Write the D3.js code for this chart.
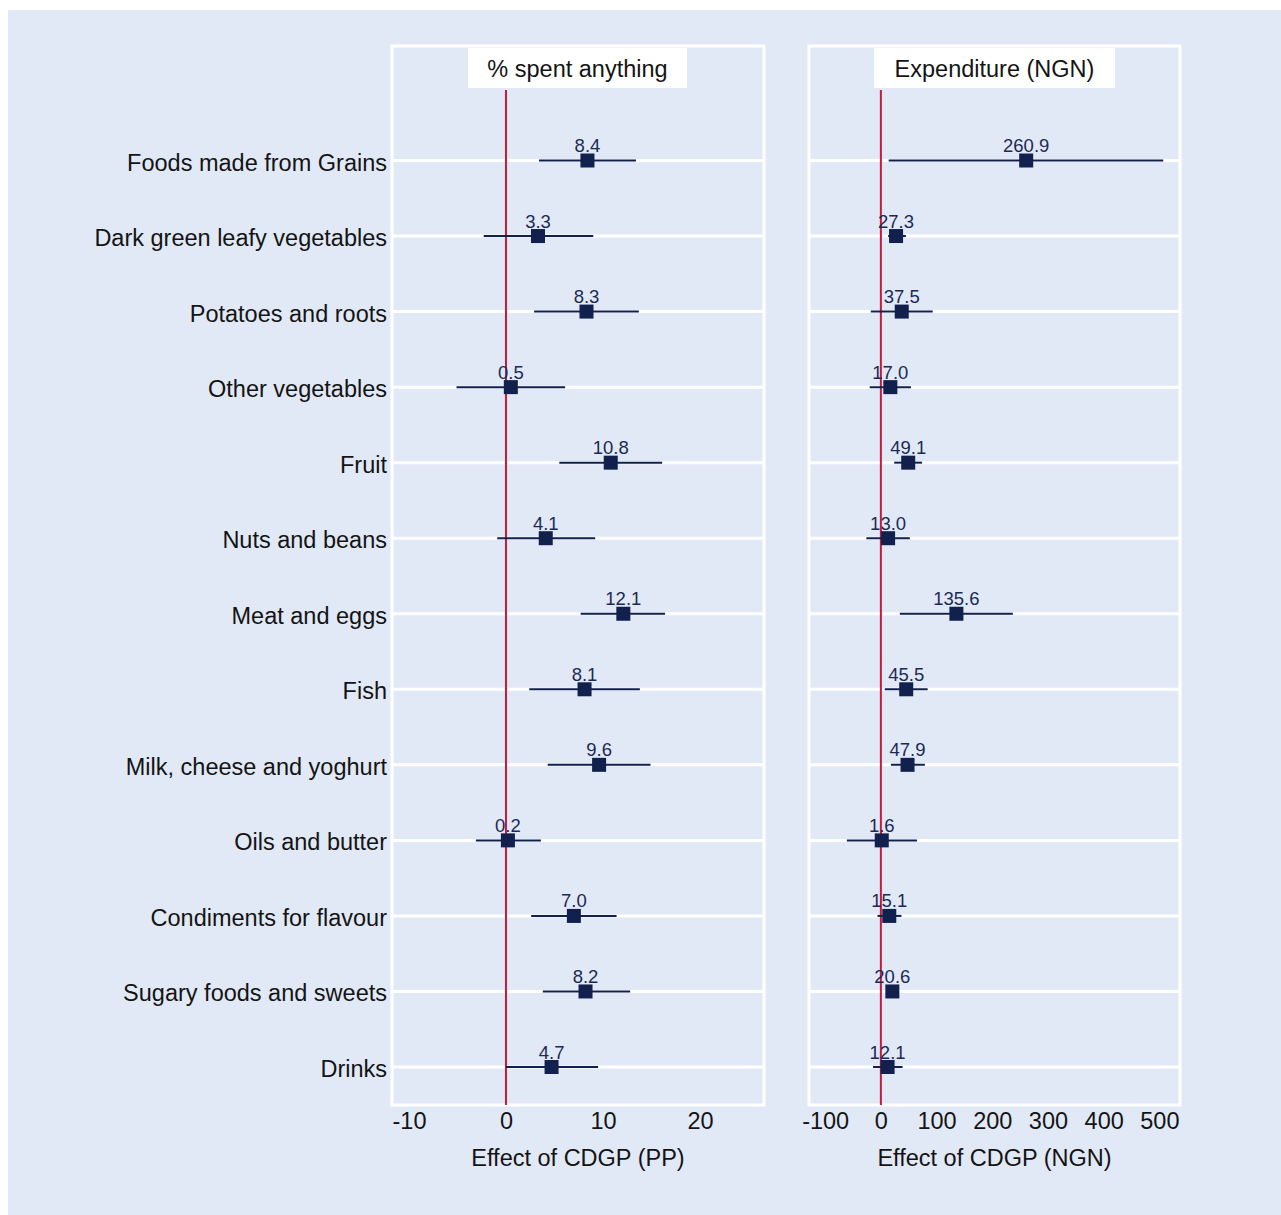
<!DOCTYPE html>
<html>
<head>
<meta charset="utf-8">
<script src="https://cdn.jsdelivr.net/npm/d3@7"></script>
<style>
  html, body { margin: 0; padding: 0; background: #ffffff; }
  svg { display: block; }
  text { font-family: "Liberation Sans", Arial, Helvetica, sans-serif; }
</style>
</head>
<body>
<svg id="chart" width="1281" height="1215"></svg>
<script>
// ---------- DATA ----------
const categories = [
  "Foods made from Grains",
  "Dark green leafy vegetables",
  "Potatoes and roots",
  "Other vegetables",
  "Fruit",
  "Nuts and beans",
  "Meat and eggs",
  "Fish",
  "Milk, cheese and yoghurt",
  "Oils and butter",
  "Condiments for flavour",
  "Sugary foods and sweets",
  "Drinks"
];

// Panel 1: % spent anything (percentage points)
const ppEstimate = [8.4, 3.3, 8.3, 0.5, 10.8, 4.1, 12.1, 8.1, 9.6, 0.2, 7.0, 8.2, 4.7];
const ppLower    = [3.4, -2.3, 2.9, -5.1, 5.5, -0.9, 7.7, 2.4, 4.3, -3.1, 2.6, 3.8, 0.0];
const ppUpper    = [13.4, 9.0, 13.7, 6.1, 16.1, 9.2, 16.4, 13.8, 14.9, 3.6, 11.4, 12.8, 9.5];

// Panel 2: Expenditure (NGN)
const ngnEstimate = [260.9, 27.3, 37.5, 17.0, 49.1, 13.0, 135.6, 45.5, 47.9, 1.6, 15.1, 20.6, 12.1];
const ngnLower    = [14, 13, -18, -20, 24, -26, 34, 7, 18, -61, -6, 12, -14];
const ngnUpper    = [507, 45, 93, 54, 74, 52, 237, 84, 79, 65, 37, 29, 39];

const ppTicks  = [-10, 0, 10, 20];
const ngnTicks = [-100, 0, 100, 200, 300, 400, 500];

const panelTitles = ["% spent anything", "Expenditure (NGN)"];
const axisTitles  = ["Effect of CDGP (PP)", "Effect of CDGP (NGN)"];

// ---------- STYLE ----------
const BG = "#e2e9f6";
const NAVY = "#11204d";
const RED = "#c8193c";
const FONT = 23.5;

const svg = d3.select("#chart");
svg.append("rect").attr("x", 8).attr("y", 10).attr("width", 1273).attr("height", 1205).attr("fill", BG);

const plotTop = 46, plotBottom = 1105;
const y = d3.scalePoint().domain(categories).range([160.5, 1067]);

const panels = [
  { x0: 392, x1: 764, domain: [-11.75, 26.6], est: ppEstimate, lo: ppLower, hi: ppUpper, ticks: ppTicks,
    title: panelTitles[0], axisTitle: axisTitles[0], box: [468, 687] },
  { x0: 809, x1: 1180, domain: [-129, 537], est: ngnEstimate, lo: ngnLower, hi: ngnUpper, ticks: ngnTicks,
    title: panelTitles[1], axisTitle: axisTitles[1], box: [874, 1115] }
];

// Category labels
svg.append("g").selectAll("text").data(categories).join("text")
  .attr("x", 387).attr("y", d => y(d) + 10)
  .attr("text-anchor", "end")
  .attr("font-size", FONT).attr("fill", "#141414")
  .text(d => d);

panels.forEach(p => {
  const x = d3.scaleLinear().domain(p.domain).range([p.x0, p.x1]);
  const g = svg.append("g");

  // grid lines at each category
  g.selectAll("line.grid").data(categories).join("line")
    .attr("class", "grid")
    .attr("x1", p.x0).attr("x2", p.x1)
    .attr("y1", d => y(d)).attr("y2", d => y(d))
    .attr("stroke", "#ffffff").attr("stroke-width", 3);

  // frame
  g.append("rect")
    .attr("x", p.x0).attr("y", plotTop)
    .attr("width", p.x1 - p.x0).attr("height", plotBottom - plotTop)
    .attr("fill", "none").attr("stroke", "#ffffff").attr("stroke-width", 3);

  // title box
  g.append("rect")
    .attr("x", p.box[0]).attr("y", 48)
    .attr("width", p.box[1] - p.box[0]).attr("height", 40)
    .attr("fill", "#ffffff");
  g.append("text")
    .attr("x", (p.box[0] + p.box[1]) / 2).attr("y", 76.5)
    .attr("text-anchor", "middle").attr("font-size", FONT).attr("fill", "#141414")
    .text(p.title);

  // reference line at zero
  g.append("line")
    .attr("x1", x(0)).attr("x2", x(0))
    .attr("y1", 90).attr("y2", plotBottom)
    .attr("stroke", RED).attr("stroke-width", 2);

  const idx = d3.range(categories.length);

  // CI lines
  g.selectAll("line.ci").data(idx).join("line")
    .attr("class", "ci")
    .attr("x1", i => x(p.lo[i])).attr("x2", i => x(p.hi[i]))
    .attr("y1", i => y(categories[i])).attr("y2", i => y(categories[i]))
    .attr("stroke", NAVY).attr("stroke-width", 2);

  // markers
  const s = 14;
  g.selectAll("rect.pt").data(idx).join("rect")
    .attr("class", "pt")
    .attr("x", i => x(p.est[i]) - s / 2).attr("y", i => y(categories[i]) - s / 2)
    .attr("width", s).attr("height", s)
    .attr("fill", NAVY);

  // value labels
  g.selectAll("text.val").data(idx).join("text")
    .attr("class", "val")
    .attr("x", i => x(p.est[i])).attr("y", i => y(categories[i]) - 8.5)
    .attr("text-anchor", "middle").attr("font-size", 18.5).attr("fill", "#1b2a55")
    .text(i => p.est[i].toFixed(1));

  // axis
  const axis = d3.axisBottom(x).tickValues(p.ticks).tickSize(0).tickPadding(0).tickFormat(d => String(d));
  const ag = svg.append("g").attr("transform", `translate(0,${plotBottom})`).call(axis);
  ag.select(".domain").remove();
  ag.selectAll("text")
    .attr("y", 24).attr("dy", 0)
    .attr("font-size", FONT).attr("fill", "#141414")
    .attr("font-family", "'Liberation Sans', Arial, Helvetica, sans-serif");

  // axis title
  svg.append("text")
    .attr("x", (p.x0 + p.x1) / 2).attr("y", 1166)
    .attr("text-anchor", "middle").attr("font-size", FONT).attr("fill", "#141414")
    .text(p.axisTitle);
});
</script>
</body>
</html>
